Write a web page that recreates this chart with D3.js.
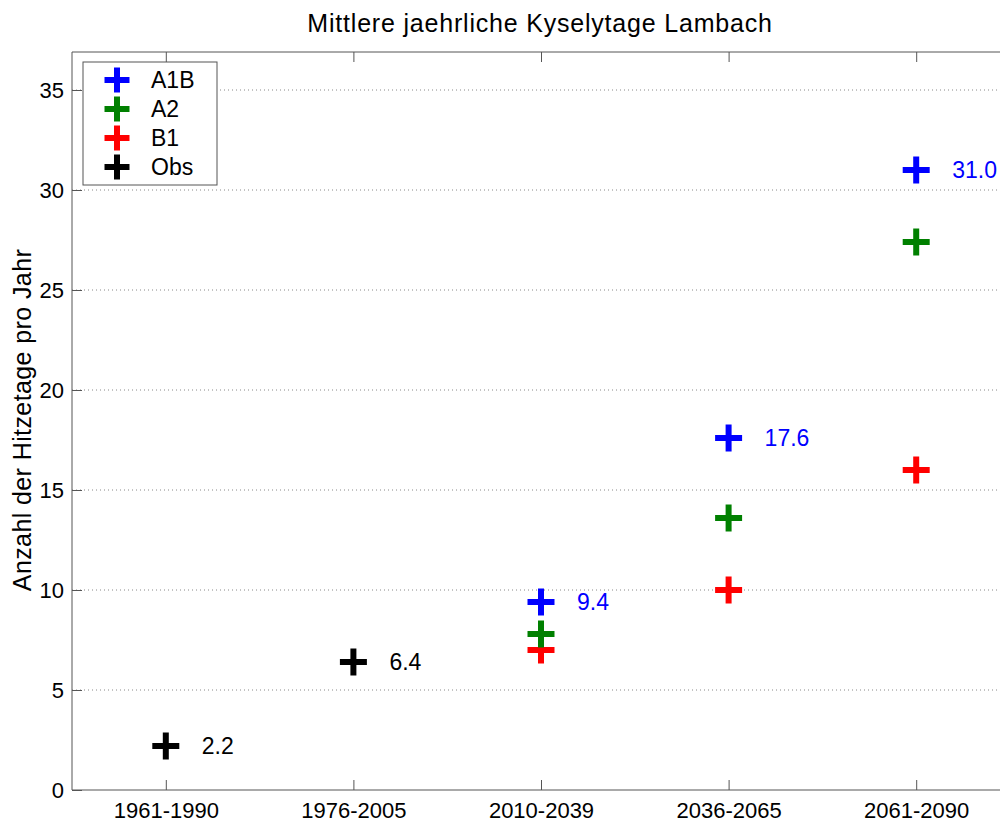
<!DOCTYPE html>
<html>
<head>
<meta charset="utf-8">
<script src="https://cdn.jsdelivr.net/npm/d3@7"></script>
<style>
  body { margin: 0; background: #fff; }
  svg { display: block; font-family: "Liberation Sans", Arial, sans-serif; }
</style>
</head>
<body>
<svg id="chart" width="1000" height="823"></svg>
<script>
// periods on the x axis
var periods = ["1961-1990", "1976-2005", "2010-2039", "2036-2065", "2061-2090"];
var yTicks = [0, 5, 10, 15, 20, 25, 30, 35];

// values per series (index into periods)
var obsIdx = [0, 1];
var obsVals = [2.2, 6.4];
var scenIdx = [2, 3, 4];
var a1bVals = [9.4, 17.6, 31.0];
var a2Vals = [7.8, 13.6, 27.4];
var b1Vals = [7.0, 10.0, 16.0];

var seriesNames = ["A1B", "A2", "B1", "Obs"];
var seriesColors = ["#0000ff", "#008000", "#ff0000", "#000000"];

function renderChart() {
    var margin = { top: 52, left: 72, bottom: 33 };
    var width = 1000, height = 823;
    var svg = d3.select("#chart");

    var x = d3.scaleLinear().domain([0.5, 5.5]).range([margin.left, 1010]);
    var y = d3.scaleLinear().domain([0, 36.9]).range([height - margin.bottom, margin.top]);

    var axisCol = "#555";

    // grid lines
    svg.append("g").selectAll("line")
        .data(yTicks.filter(function(t) { return t > 0; }))
        .enter().append("line")
        .attr("x1", margin.left).attr("x2", 1010)
        .attr("y1", function(d) { return y(d); })
        .attr("y2", function(d) { return y(d); })
        .attr("stroke", "#888")
        .attr("stroke-width", 1)
        .attr("stroke-dasharray", "1,3");

    // frame
    svg.append("line").attr("x1", margin.left).attr("x2", 1010)
        .attr("y1", y(36.9)).attr("y2", y(36.9)).attr("stroke", axisCol);
    svg.append("line").attr("x1", margin.left).attr("x2", 1010)
        .attr("y1", y(0)).attr("y2", y(0)).attr("stroke", axisCol);
    svg.append("line").attr("x1", margin.left).attr("x2", margin.left)
        .attr("y1", y(0)).attr("y2", y(36.9)).attr("stroke", axisCol);

    // x axis
    var xAxis = d3.axisBottom(x)
        .tickValues([1, 2, 3, 4, 5])
        .tickFormat(function(d) { return periods[d - 1]; })
        .tickSizeInner(-10).tickSizeOuter(0);
    var gx = svg.append("g")
        .attr("transform", "translate(0," + y(0) + ")")
        .call(xAxis);
    gx.select(".domain").remove();
    gx.selectAll("line").attr("stroke", axisCol);
    gx.selectAll("text").attr("font-size", 22).attr("fill", "#000")
        .attr("y", 28).attr("dy", 0)
        .attr("font-family", "Liberation Sans, Arial, sans-serif");

    // top ticks
    var xTop = d3.axisTop(x).tickValues([1, 2, 3, 4, 5]).tickFormat("")
        .tickSizeInner(-10).tickSizeOuter(0);
    var gt = svg.append("g").attr("transform", "translate(0," + y(36.9) + ")").call(xTop);
    gt.select(".domain").remove();
    gt.selectAll("line").attr("stroke", axisCol);

    // y axis
    var yAxis = d3.axisLeft(y).tickValues(yTicks)
        .tickSizeInner(-10).tickSizeOuter(0).tickPadding(8);
    var gy = svg.append("g").attr("transform", "translate(" + margin.left + ",0)").call(yAxis);
    gy.select(".domain").remove();
    gy.selectAll("line").attr("stroke", axisCol);
    gy.selectAll("text").attr("font-size", 22).attr("fill", "#000")
        .attr("font-family", "Liberation Sans, Arial, sans-serif");

    // title and y label
    svg.append("text").attr("x", 540).attr("y", 32)
        .attr("text-anchor", "middle").attr("font-size", 25)
        .attr("letter-spacing", 0.8)
        .text("Mittlere jaehrliche Kyselytage Lambach");
    svg.append("text")
        .attr("transform", "translate(31," + y(18.5) + ") rotate(-90)")
        .attr("text-anchor", "middle").attr("font-size", 25)
        .attr("letter-spacing", 0.4)
        .text("Anzahl der Hitzetage pro Jahr");

    function plus(g, cx, cy, color, size) {
        g.append("line").attr("x1", cx - size).attr("x2", cx + size)
            .attr("y1", cy).attr("y2", cy).attr("stroke", color).attr("stroke-width", 6);
        g.append("line").attr("x1", cx).attr("x2", cx)
            .attr("y1", cy - size).attr("y2", cy + size).attr("stroke", color).attr("stroke-width", 6);
    }

    var marks = svg.append("g");
    var series = [
        { idx: scenIdx, vals: b1Vals, color: seriesColors[2], label: false },
        { idx: scenIdx, vals: a2Vals, color: seriesColors[1], label: false },
        { idx: scenIdx, vals: a1bVals, color: seriesColors[0], label: true },
        { idx: obsIdx, vals: obsVals, color: seriesColors[3], label: true }
    ];
    series.forEach(function(s) {
        s.vals.forEach(function(v, i) {
            var cx = x(s.idx[i] + 1), cy = y(v);
            plus(marks, cx, cy, s.color, 13.5);
            if (s.label) {
                marks.append("text").attr("x", cx + 36).attr("y", cy + 8)
                    .attr("font-size", 23).attr("fill", s.color)
                    .text(v.toFixed(1));
            }
        });
    });

    // legend
    var lg = svg.append("g");
    lg.append("rect").attr("x", 83).attr("y", 62).attr("width", 134).attr("height", 123)
        .attr("fill", "#fff").attr("stroke", axisCol);
    seriesNames.forEach(function(name, i) {
        var ly = 80 + i * 29;
        plus(lg, 117, ly, seriesColors[i], 12.5);
        lg.append("text").attr("x", 151).attr("y", ly + 8)
            .attr("font-size", 23).text(name);
    });
}

renderChart();
</script>
</body>
</html>
